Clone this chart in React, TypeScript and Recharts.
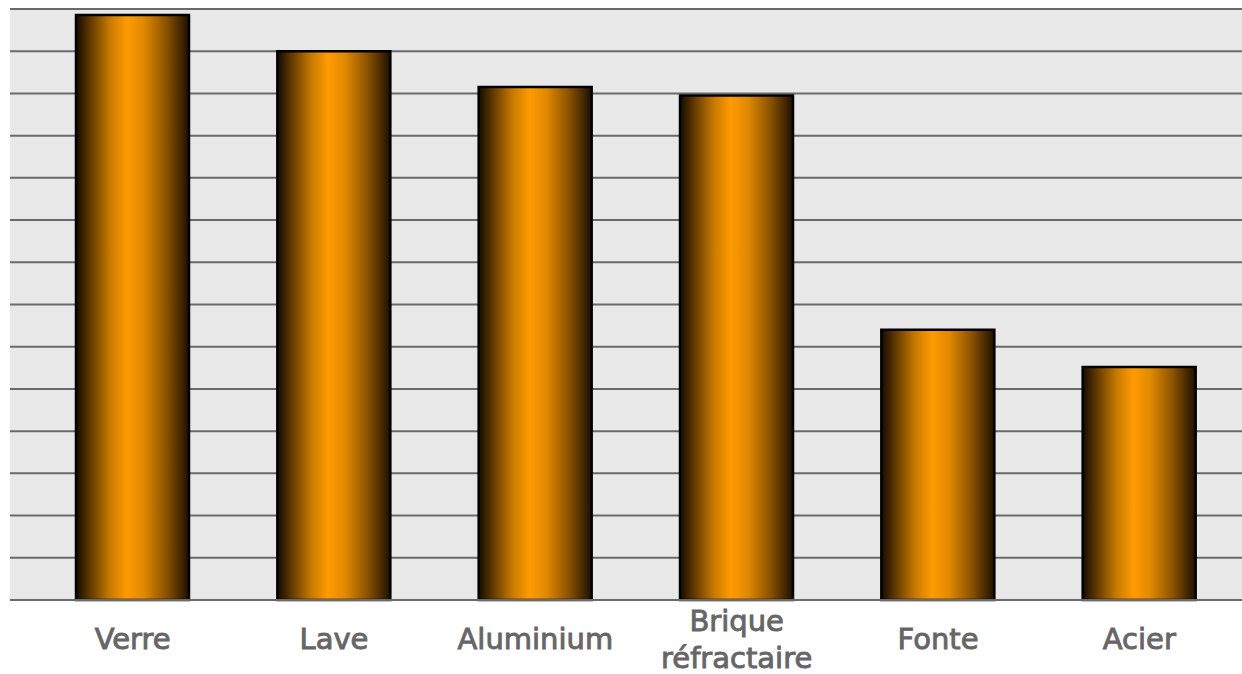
import { BarChart, Bar, XAxis, YAxis, CartesianGrid } from "recharts";

const materials = ["Verre", "Lave", "Aluminium", "Brique\nréfractaire", "Fonte", "Acier"];
const values = [13.86, 13.0, 12.15, 11.95, 6.4, 5.52];
const yTicks = [0, 1, 2, 3, 4, 5, 6, 7, 8, 9, 10, 11, 12, 13, 14];

const data = materials.map((name, i) => ({ name, value: values[i] }));

const MaterialTick = (props: any) => {
  const { x, y, payload } = props;
  const lines = String(payload.value).split("\n");
  const lineH = 37;
  const startY = y + 41 - ((lines.length - 1) * lineH) / 2;
  return (
    <text
      x={x}
      y={startY}
      textAnchor="middle"
      fill="#666666"
      stroke="#666666"
      strokeWidth={0.9}
      fontFamily="'DejaVu Sans', sans-serif"
      fontSize={29}
    >
      {lines.map((l, i) => (
        <tspan key={i} x={x} y={startY + i * lineH}>
          {l}
        </tspan>
      ))}
    </text>
  );
};

const NoTick = () => <g />;

export default function App() {
  return (
    <div style={{ position: "absolute", left: 0, top: 0, background: "#fff" }}>
      <BarChart
        width={1242}
        height={674}
        data={data}
        margin={{ top: 9, right: 0, left: 10, bottom: 0 }}
      >
        <defs>
          <linearGradient id="barGrad" x1="0" y1="0" x2="1" y2="0">
            <stop offset="0" stopColor="#140a00" />
            <stop offset="0.12" stopColor="#5e3700" />
            <stop offset="0.3" stopColor="#c77a00" />
            <stop offset="0.45" stopColor="#ff9b00" />
            <stop offset="0.6" stopColor="#e08900" />
            <stop offset="0.8" stopColor="#8a5200" />
            <stop offset="1" stopColor="#1c1000" />
          </linearGradient>
        </defs>
        <CartesianGrid
          vertical={false}
          stroke="#6a6a6a"
          strokeWidth={2}
          fill="#e8e8e8"
          fillOpacity={1}
        />
        <YAxis
          width={0}
          domain={[0, 14]}
          ticks={yTicks}
          interval={0}
          tick={<NoTick />}
          tickLine={false}
          axisLine={{ stroke: "#6a6a6a", strokeWidth: 2 }}
        />
        <XAxis
          dataKey="name"
          height={74}
          padding={{ left: 22, right: 2 }}
          interval={0}
          tickLine={false}
          axisLine={{ stroke: "#6a6a6a", strokeWidth: 2 }}
          tick={<MaterialTick />}
        />
        <Bar
          dataKey="value"
          barSize={113}
          fill="url(#barGrad)"
          stroke="#000"
          strokeWidth={2.5}
          isAnimationActive={false}
        />
      </BarChart>
    </div>
  );
}
